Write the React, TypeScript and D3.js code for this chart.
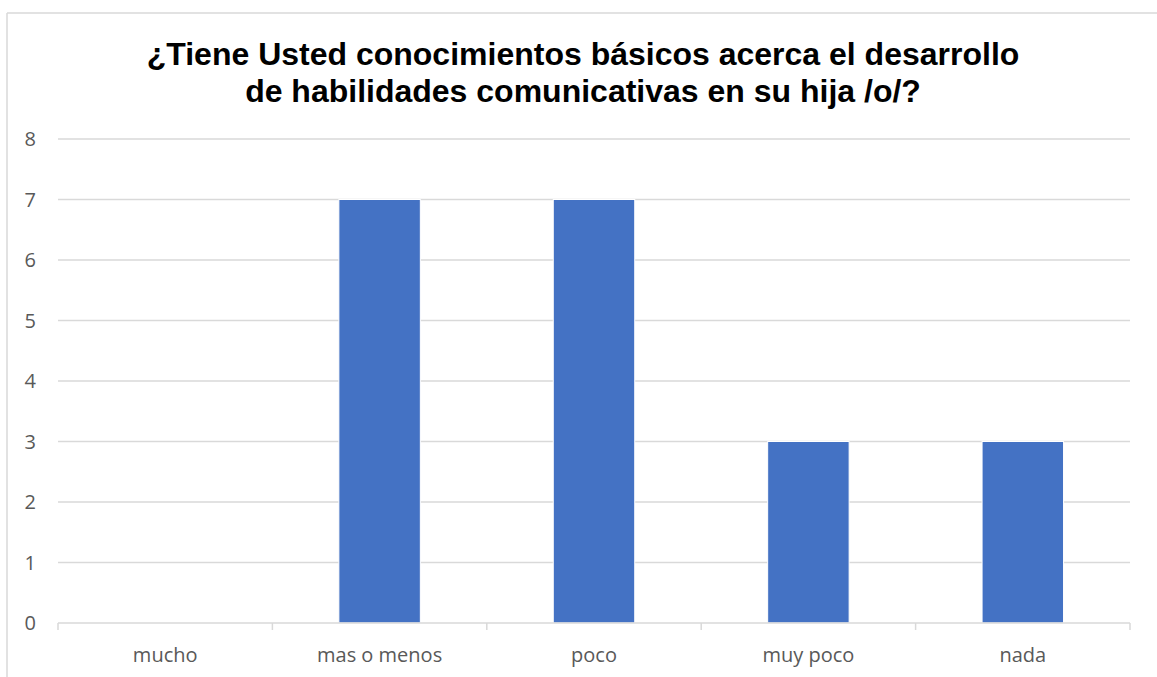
import React from "react";
import * as d3 from "d3";

const categories = ["mucho", "mas o menos", "poco", "muy poco", "nada"];
const values = [0, 7, 7, 3, 3];
const yTicks = [0, 1, 2, 3, 4, 5, 6, 7, 8];
const titleLines = [
  "¿Tiene Usted conocimientos básicos acerca el desarrollo",
  "de habilidades comunicativas en su hija /o/?",
];

const W = 1157;
const H = 677;
const left = 58;
const right = 1130;
const top = 139;
const bottom = 623;

export default function App() {
  const x = d3.scaleBand<string>().domain(categories).range([left, right]).paddingInner(0.62).paddingOuter(0.31);
  const step = (right - left) / categories.length;
  const y = d3.scaleLinear().domain([0, 8]).range([bottom, top]);
  const labelFont = "'Open Sans', 'Noto Sans', sans-serif";
  return (
    <svg width={W} height={H} style={{ position: "absolute", left: 0, top: 0, background: "#fff" }}>
      <rect x={0} y={0} width={W} height={H} fill="#fff" />
      <line x1={7} y1={13} x2={W} y2={13} stroke="#d9d9d9" strokeWidth={1.5} />
      <line x1={7} y1={13} x2={7} y2={H} stroke="#d9d9d9" strokeWidth={1.5} />
      {titleLines.map((t, i) => (
        <text
          key={i}
          x={583}
          y={65 + i * 36.5}
          textAnchor="middle"
          fontFamily="'Liberation Sans', Arial, sans-serif"
          fontWeight="bold"
          fontSize={32}
          fill="#000"
        >
          {t}
        </text>
      ))}
      {yTicks.map((t) => (
        <g key={t}>
          {t > 0 && (
            <line x1={left} x2={right} y1={y(t)} y2={y(t)} stroke="#d9d9d9" strokeWidth={1.5} />
          )}
          <text
            x={36}
            y={y(t)}
            dy="0.36em"
            textAnchor="end"
            fontFamily={labelFont}
            fontSize={20}
            fill="#595959"
          >
            {t}
          </text>
        </g>
      ))}
      {categories.map((c, i) => (
        <rect
          key={c}
          x={x(c)}
          y={y(values[i])}
          width={x.bandwidth()}
          height={bottom - y(values[i])}
          fill="#4472C4"
          stroke="#fff"
          strokeWidth={values[i] > 0 ? 1 : 0}
        />
      ))}
      <line x1={left} x2={right} y1={bottom} y2={bottom} stroke="#d9d9d9" strokeWidth={1.5} />
      {d3.range(categories.length + 1).map((i) => (
        <line
          key={i}
          x1={left + i * step}
          x2={left + i * step}
          y1={bottom}
          y2={bottom + 7}
          stroke="#d9d9d9"
          strokeWidth={1.5}
        />
      ))}
      {categories.map((c) => (
        <text
          key={c}
          x={(x(c) as number) + x.bandwidth() / 2}
          y={662}
          textAnchor="middle"
          fontFamily={labelFont}
          fontSize={20}
          fill="#595959"
        >
          {c}
        </text>
      ))}
    </svg>
  );
}
